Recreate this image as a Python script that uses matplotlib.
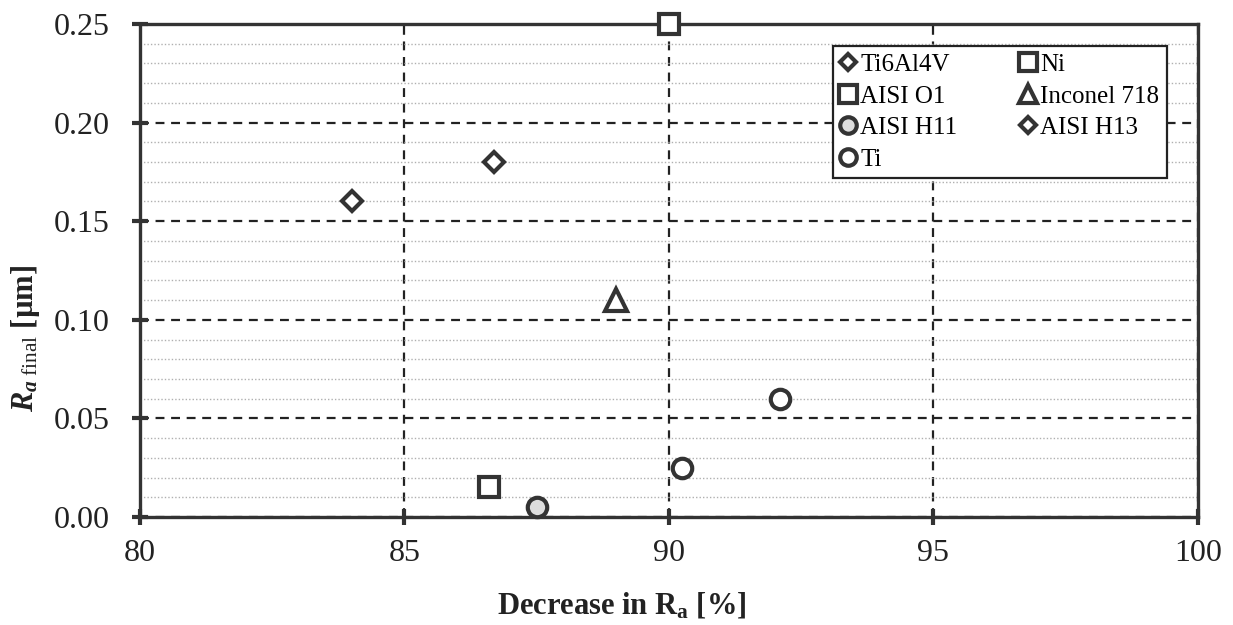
import matplotlib.pyplot as plt
from matplotlib.ticker import MultipleLocator

plt.rcParams['font.family'] = ['Liberation Serif', 'DejaVu Serif']
plt.rcParams['mathtext.fontset'] = 'custom'
plt.rcParams['mathtext.rm'] = 'Liberation Serif'
plt.rcParams['mathtext.it'] = 'Liberation Serif:italic'
plt.rcParams['mathtext.bf'] = 'Liberation Serif:bold'
plt.rcParams['mathtext.bfit'] = 'Liberation Serif:italic:bold'

# Data
materials = ["Ti6Al4V", "AISI O1", "AISI H11", "Ti", "Ni", "Inconel 718", "AISI H13"]
decrease = [[84.0], [86.6], [87.5], [90.25, 92.1], [90.0], [89.0], [86.7]]
ra_final = [[0.16], [0.015], [0.005], [0.025, 0.06], [0.25], [0.11], [0.18]]
markers = ["D", "s", "o", "o", "s", "^", "D"]
sizes = [10, 15, 14, 14, 15, 16, 10]
faces = ["white", "white", "#dddddd", "white", "white", "white", "white"]

dark = "#333333"

fig = plt.figure(figsize=(12.33, 6.25), dpi=100)
ax = fig.add_axes([0.1135, 0.1728, 0.858, 0.7888])

for name, xs, ys, m, s, fc in zip(materials, decrease, ra_final, markers, sizes, faces):
    ax.plot(xs, ys, linestyle='none', marker=m, markersize=s, markerfacecolor=fc,
            markeredgecolor=dark, markeredgewidth=3, label=name, zorder=5, clip_on=False)

ax.set_xlim(80, 100)
ax.set_ylim(0, 0.25)
ax.xaxis.set_major_locator(MultipleLocator(5))
ax.yaxis.set_major_locator(MultipleLocator(0.05))
ax.yaxis.set_minor_locator(MultipleLocator(0.01))
ax.yaxis.set_major_formatter(plt.FormatStrFormatter('%.2f'))

ax.grid(which='minor', axis='y', color='#b0b0b0', linestyle=(0, (1, 1.5)), linewidth=1.0, zorder=0)
ax.grid(which='major', axis='both', color='#222222', linestyle=(0, (4, 3)), linewidth=1.6, zorder=1)

for sp in ax.spines.values():
    sp.set_linewidth(2.4)
    sp.set_color(dark)

ax.tick_params(which='major', direction='inout', length=11, width=3, color=dark,
               labelsize=23, labelcolor='#222222')
ax.tick_params(axis='y', pad=16)
ax.tick_params(axis='x', pad=10)
ax.tick_params(which='minor', length=0)

ax.set_xlabel(r"Decrease in R$_\mathbf{a}$ [%]", fontsize=22, fontweight='bold', color='#222222')
ax.xaxis.set_label_coords(0.455, -0.149)
ax.set_ylabel(r"$\mathbfit{R}_{\mathbfit{a}\ \mathrm{final}}$ [µm]", fontsize=22,
              fontweight='bold', color='#222222')
ax.yaxis.set_label_coords(-0.093, 0.363)

leg = ax.legend(ncol=2, loc='upper left', bbox_to_anchor=(0.655, 0.955), fontsize=18,
                frameon=True, fancybox=False, edgecolor='#222222', framealpha=1,
                handlelength=0.6, handletextpad=0.2, columnspacing=2.5,
                labelspacing=0.36, borderpad=0.3, markerscale=0.85, borderaxespad=0)
leg.get_frame().set_linewidth(1.6)

fig.savefig("out.png", dpi=100)
